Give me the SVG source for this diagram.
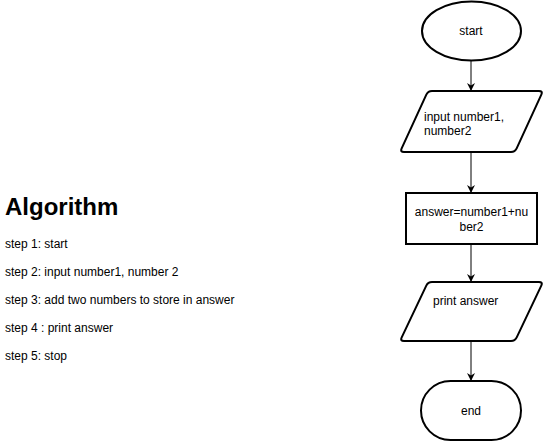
<svg xmlns="http://www.w3.org/2000/svg" width="548" height="442" viewBox="0 0 548 442">
<style>
.shape{fill:#ffffff;stroke:#000000;stroke-width:2}
.lbl{font-family:"Liberation Sans",Arial,sans-serif;font-size:12px;fill:#000000}
.c{text-anchor:middle}
.step{font-family:"Liberation Sans",Arial,sans-serif;font-size:12px;fill:#000000}
.title{font-family:"Liberation Sans",Arial,sans-serif;font-size:24px;font-weight:bold;fill:#000000}
.edge{fill:none;stroke:#000000;stroke-width:1}
</style>
<defs>
<marker id="arrow" viewBox="0 0 10 10" refX="10" refY="5" markerWidth="8" markerHeight="8" markerUnits="userSpaceOnUse" orient="auto">
<path d="M0,0 L10,5 L0,10 L3,5 Z" fill="#000000"/>
</marker>
</defs>
<rect width="548" height="442" fill="#ffffff"/>
<g id="algorithm-text">
<text class="title" x="5" y="215">Algorithm</text>
<text class="step" x="5" y="248">step 1: start</text>
<text class="step" x="5" y="276">step 2: input number1, number 2</text>
<text class="step" x="5" y="304">step 3: add two numbers to store in answer</text>
<text class="step" x="5" y="332">step 4 : print answer</text>
<text class="step" x="5" y="360">step 5: stop</text>
</g>
<g id="connectors">
<line class="edge" x1="471" y1="61" x2="471" y2="91" marker-end="url(#arrow)"/>
<line class="edge" x1="471" y1="152" x2="471" y2="193" marker-end="url(#arrow)"/>
<line class="edge" x1="471" y1="244" x2="471" y2="282" marker-end="url(#arrow)"/>
<line class="edge" x1="471" y1="341" x2="471" y2="381" marker-end="url(#arrow)"/>
</g>
<g id="node-start">
<ellipse class="shape" cx="471.5" cy="31" rx="49.5" ry="29.5"/>
<text class="lbl c" x="471" y="35">start</text>
</g>
<g id="node-input">
<path class="shape" d="M432,91 L539,91 Q543,91 541.33,94.64 L516.67,148.36 Q515,152 511,152 L404,152 Q400,152 401.67,148.36 L426.33,94.64 Q428,91 432,91 Z"/>
<text class="lbl" x="424" y="121">input number1,</text>
<text class="lbl" x="424" y="135">number2</text>
</g>
<g id="node-process">
<rect class="shape" x="406" y="193" width="131" height="51"/>
<text class="lbl c" x="471.5" y="216">answer=number1+nu</text>
<text class="lbl c" x="471.5" y="231">ber2</text>
</g>
<g id="node-print">
<path class="shape" d="M432,282 L539,282 Q543,282 541.29,285.61 L516.71,337.39 Q515,341 511,341 L404,341 Q400,341 401.71,337.39 L426.29,285.61 Q428,282 432,282 Z"/>
<text class="lbl" x="433" y="305">print answer</text>
</g>
<g id="node-end">
<rect class="shape" x="421" y="381" width="100" height="59" rx="29.5" ry="29.5"/>
<text class="lbl c" x="471" y="415">end</text>
</g>
</svg>
